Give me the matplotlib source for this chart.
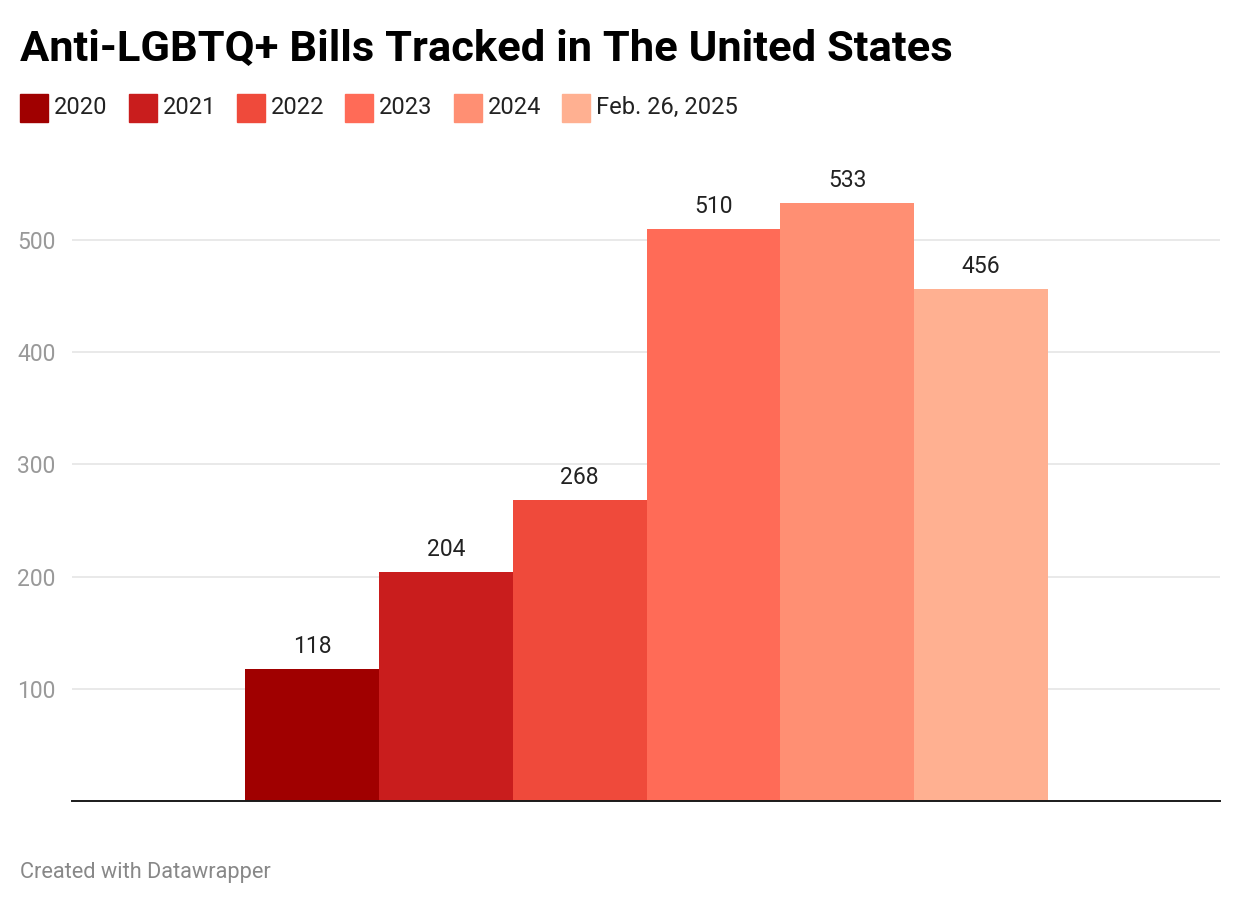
#!/usr/bin/env python3

import matplotlib

matplotlib.use("Agg")
import matplotlib.pyplot as plt
from matplotlib.patches import Rectangle

# data
labels = ["2020", "2021", "2022", "2023", "2024", "Feb. 26, 2025"]
values = [118, 204, 268, 510, 533, 456]
colors = ["#a00000", "#c91d1d", "#ef4a3b", "#ff6b57", "#ff8f73", "#ffb091"]
yticks = [100, 200, 300, 400, 500]

title = "Anti-LGBTQ+ Bills Tracked in The United States"
footer = "Created with Datawrapper"

W, H = 1240, 906
DPI = 100


def main():
    plt.rcParams["font.family"] = ["Roboto", "DejaVu Sans"]

    fig = plt.figure(figsize=(W / DPI, H / DPI), dpi=DPI)
    fig.patch.set_facecolor("white")

    # axes in pixel coordinates: left 72, right 1220, baseline 801
    ymax = 580
    px_per_unit = 1.122
    ax_h = ymax * px_per_unit
    ax = fig.add_axes([72 / W, (H - 801) / H, (1220 - 72) / W, ax_h / H])

    xs = list(range(len(values)))
    ax.bar(xs, values, width=1.0, color=colors, zorder=3)

    for x, v in zip(xs, values):
        ax.annotate(str(v), (x, v), xytext=(0, 11.5), textcoords="offset points",
                    ha="center", va="baseline", fontsize=16.5, color="#222222",
                    zorder=4)

    ax.set_xlim(-1.793, 6.785)
    ax.set_ylim(0, ymax)
    ax.set_xticks([])
    ax.set_yticks(yticks)
    ax.set_yticklabels([str(t) for t in yticks])
    ax.tick_params(axis="y", length=0, pad=12, labelsize=16.5, labelcolor="#999999")
    ax.grid(axis="y", color="#e5e5e5", linewidth=1.2, zorder=0)
    for side in ["top", "right", "left"]:
        ax.spines[side].set_visible(False)
    ax.spines["bottom"].set_color("#1a1a1a")
    ax.spines["bottom"].set_linewidth(1.4)
    ax.spines["bottom"].set_zorder(5)

    # title
    fig.text(20 / W, 1 - 61 / H, title, fontsize=31.3, fontweight="bold",
             color="#000000", ha="left", va="baseline")

    # legend, drawn item by item
    renderer = fig.canvas.get_renderer()
    x = 20
    for lab, col in zip(labels, colors):
        fig.patches.append(Rectangle((x / W, 1 - 122 / H), 28 / W, 28 / H,
                                     transform=fig.transFigure, color=col))
        t = fig.text((x + 34) / W, 1 - 114 / H, lab, fontsize=17,
                     color="#222222", ha="left", va="baseline")
        bb = t.get_window_extent(renderer=renderer)
        x = bb.x1 + 21

    # footer
    fig.text(20 / W, 1 - 878 / H, footer, fontsize=15.7, color="#888888",
             ha="left", va="baseline")

    plt.savefig("out.png", dpi=DPI)


##############################################################################

if __name__ == "__main__":
    main()
